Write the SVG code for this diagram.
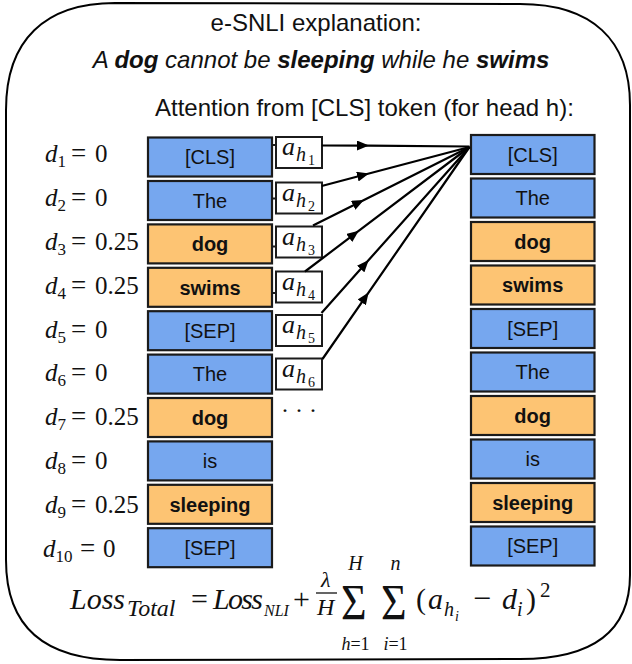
<svg xmlns="http://www.w3.org/2000/svg" width="632" height="664" viewBox="0 0 632 664">
<defs>
<style>
.frame{fill:none;stroke:#000;stroke-width:2}
.blue{fill:#76A7EF;stroke:#1b1b1b;stroke-width:2.2}
.orange{fill:#FDC473;stroke:#1b1b1b;stroke-width:2.2}
.abox{fill:#fff;stroke:#1b1b1b;stroke-width:2}
.tok{font-family:"Liberation Sans",Arial,sans-serif;font-size:20px;fill:#111;text-anchor:middle}
.b{font-weight:bold}
.head{font-family:"Liberation Sans",Arial,sans-serif;font-size:24px;fill:#111}
.m{font-family:"Liberation Serif","Times New Roman",serif;fill:#111}
.i{font-style:italic}
.conn{fill:none;stroke:#000;stroke-width:2.2}
.tick{stroke:#1b1b1b;stroke-width:2}
</style>
<marker id="ah" viewBox="0 0 12 10" refX="11" refY="5" markerWidth="12" markerHeight="10" markerUnits="userSpaceOnUse" orient="auto">
<path d="M0,0 L12,5 L0,10 z" fill="#000"/>
</marker>
</defs>

<path class="frame" d="M115,3 L520,4 C592,4 630,40 630,105 L630,575 C630,632 592,659 520,659 L120,660 C48,660 6,630 6,560 L6,110 C6,40 45,3 115,3 Z"/>

<g id="header">
<text class="head" x="316" y="31" text-anchor="middle">e-SNLI explanation:</text>
<text class="head i" x="321" y="68" text-anchor="middle" font-size="24.5">A <tspan class="b">dog</tspan> cannot be <tspan class="b">sleeping</tspan> while he <tspan class="b">swims</tspan></text>
<text class="head" x="155" y="116" font-size="24.7">Attention from [CLS] token (for head h):</text>
</g>

<g id="d-labels" class="m" font-size="25">
<text y="161.7"><tspan x="45" class="i">d</tspan><tspan font-size="17" dy="5">1</tspan><tspan x="71" dy="-5" font-size="27">=</tspan><tspan x="95">0</tspan></text>
<text y="205.6"><tspan x="45" class="i">d</tspan><tspan font-size="17" dy="5">2</tspan><tspan x="71" dy="-5" font-size="27">=</tspan><tspan x="95">0</tspan></text>
<text y="249.6"><tspan x="45" class="i">d</tspan><tspan font-size="17" dy="5">3</tspan><tspan x="71" dy="-5" font-size="27">=</tspan><tspan x="95">0.25</tspan></text>
<text y="293.5"><tspan x="45" class="i">d</tspan><tspan font-size="17" dy="5">4</tspan><tspan x="71" dy="-5" font-size="27">=</tspan><tspan x="95">0.25</tspan></text>
<text y="337.5"><tspan x="45" class="i">d</tspan><tspan font-size="17" dy="5">5</tspan><tspan x="71" dy="-5" font-size="27">=</tspan><tspan x="95">0</tspan></text>
<text y="381.4"><tspan x="45" class="i">d</tspan><tspan font-size="17" dy="5">6</tspan><tspan x="71" dy="-5" font-size="27">=</tspan><tspan x="95">0</tspan></text>
<text y="425.4"><tspan x="45" class="i">d</tspan><tspan font-size="17" dy="5">7</tspan><tspan x="71" dy="-5" font-size="27">=</tspan><tspan x="95">0.25</tspan></text>
<text y="469.3"><tspan x="45" class="i">d</tspan><tspan font-size="17" dy="5">8</tspan><tspan x="71" dy="-5" font-size="27">=</tspan><tspan x="95">0</tspan></text>
<text y="513.3"><tspan x="45" class="i">d</tspan><tspan font-size="17" dy="5">9</tspan><tspan x="71" dy="-5" font-size="27">=</tspan><tspan x="95">0.25</tspan></text>
<text y="557.2"><tspan x="43" class="i">d</tspan><tspan font-size="17" dy="5">10</tspan><tspan x="80" dy="-5" font-size="27">=</tspan><tspan x="103">0</tspan></text>
</g>

<g id="left-tokens">
<g id="l1"><rect class="blue" x="148" y="137.5" width="124" height="39"/><text class="tok" x="210" y="164.3">[CLS]</text></g>
<g id="l2"><rect class="blue" x="148" y="181" width="124" height="39"/><text class="tok" x="210" y="207.8">The</text></g>
<g id="l3"><rect class="orange" x="148" y="224.4" width="124" height="39"/><text class="tok b" x="210" y="251.2">dog</text></g>
<g id="l4"><rect class="orange" x="148" y="267.8" width="124" height="39"/><text class="tok b" x="210" y="294.6">swims</text></g>
<g id="l5"><rect class="blue" x="148" y="311.2" width="124" height="39"/><text class="tok" x="210" y="338">[SEP]</text></g>
<g id="l6"><rect class="blue" x="148" y="354.6" width="124" height="39"/><text class="tok" x="210" y="381.4">The</text></g>
<g id="l7"><rect class="orange" x="148" y="398" width="124" height="39"/><text class="tok b" x="210" y="424.8">dog</text></g>
<g id="l8"><rect class="blue" x="148" y="441.4" width="124" height="39"/><text class="tok" x="210" y="468.2">is</text></g>
<g id="l9"><rect class="orange" x="148" y="484.8" width="124" height="39"/><text class="tok b" x="210" y="511.6">sleeping</text></g>
<g id="l10"><rect class="blue" x="148" y="528.2" width="124" height="39"/><text class="tok" x="210" y="555">[SEP]</text></g>
</g>

<g id="right-tokens">
<g id="r1"><rect class="blue" x="471" y="135" width="123.5" height="39"/><text class="tok" x="532.7" y="161.8">[CLS]</text></g>
<g id="r2"><rect class="blue" x="471" y="178.5" width="123.5" height="39"/><text class="tok" x="532.7" y="205.3">The</text></g>
<g id="r3"><rect class="orange" x="471" y="222" width="123.5" height="39"/><text class="tok b" x="532.7" y="248.8">dog</text></g>
<g id="r4"><rect class="orange" x="471" y="265.5" width="123.5" height="39"/><text class="tok b" x="532.7" y="292.3">swims</text></g>
<g id="r5"><rect class="blue" x="471" y="309" width="123.5" height="39"/><text class="tok" x="532.7" y="335.8">[SEP]</text></g>
<g id="r6"><rect class="blue" x="471" y="352.5" width="123.5" height="39"/><text class="tok" x="532.7" y="379.3">The</text></g>
<g id="r7"><rect class="orange" x="471" y="396" width="123.5" height="39"/><text class="tok b" x="532.7" y="422.8">dog</text></g>
<g id="r8"><rect class="blue" x="471" y="439.5" width="123.5" height="39"/><text class="tok" x="532.7" y="466.3">is</text></g>
<g id="r9"><rect class="orange" x="471" y="483" width="123.5" height="39"/><text class="tok b" x="532.7" y="509.8">sleeping</text></g>
<g id="r10"><rect class="blue" x="471" y="526.5" width="123.5" height="39"/><text class="tok" x="532.7" y="553.3">[SEP]</text></g>
</g>

<g id="attention-weights" class="m">
<g id="a1"><rect class="abox" x="276" y="137" width="46" height="31"/><text class="i" font-size="26" x="282" y="155">a</text><text class="i" font-size="20" x="296" y="161">h</text><text font-size="14" x="308" y="165">1</text></g>
<g id="a2"><rect class="abox" x="276" y="182.5" width="46" height="31"/><text class="i" font-size="26" x="282" y="200.5">a</text><text class="i" font-size="20" x="296" y="206.5">h</text><text font-size="14" x="308" y="210.5">2</text></g>
<g id="a3"><rect class="abox" x="276" y="226.5" width="46" height="31"/><text class="i" font-size="26" x="282" y="244.5">a</text><text class="i" font-size="20" x="296" y="250.5">h</text><text font-size="14" x="308" y="254.5">3</text></g>
<g id="a4"><rect class="abox" x="276" y="271.5" width="46" height="31"/><text class="i" font-size="26" x="282" y="289.5">a</text><text class="i" font-size="20" x="296" y="295.5">h</text><text font-size="14" x="308" y="299.5">4</text></g>
<g id="a5"><rect class="abox" x="276" y="315" width="46" height="31"/><text class="i" font-size="26" x="282" y="333">a</text><text class="i" font-size="20" x="296" y="339">h</text><text font-size="14" x="308" y="343">5</text></g>
<g id="a6"><rect class="abox" x="276" y="358.5" width="46" height="31"/><text class="i" font-size="26" x="282" y="376.5">a</text><text class="i" font-size="20" x="296" y="382.5">h</text><text font-size="14" x="308" y="386.5">6</text></g>
<text id="ellipsis" font-size="24" x="281" y="418">· · ·</text>
</g>

<g id="connectors">
<line class="tick" x1="272" y1="145" x2="276" y2="145"/>
<line class="tick" x1="272" y1="198.5" x2="276" y2="198.5"/>
<line class="tick" x1="272" y1="246.5" x2="276" y2="246.5"/>
<line class="tick" x1="272" y1="293" x2="276" y2="293"/>
<polyline class="conn" marker-mid="url(#ah)" points="321.7,145.5 368,145.6 469.5,146.5"/>
<polyline class="conn" marker-mid="url(#ah)" points="321.7,186 368,173.8 469.5,147"/>
<polyline class="conn" marker-mid="url(#ah)" points="313,225.5 363,200.4 469.5,147"/>
<polyline class="conn" marker-mid="url(#ah)" points="305,271.5 358,231.4 469.5,147"/>
<polyline class="conn" marker-mid="url(#ah)" points="321.5,313 368,260.8 469.5,147"/>
<polyline class="conn" marker-mid="url(#ah)" points="322.5,359 368,293.4 469.5,147"/>
</g>

<g id="formula" class="m">
<text class="i" font-size="30" x="70" y="609">Loss</text>
<text class="i" font-size="24" x="127" y="616">Total</text>
<text font-size="30" x="191" y="609">=</text>
<text class="i" font-size="30" x="213" y="609" textLength="50" lengthAdjust="spacing">Loss</text>
<text class="i" font-size="16" x="264" y="616">NLI</text>
<text font-size="30" x="293" y="609">+</text>
<text class="i" font-size="22" x="321" y="587">λ</text>
<line x1="316" y1="593" x2="337" y2="593" stroke="#111" stroke-width="1.3"/>
<text class="i" font-size="24" x="317" y="615">H</text>
<text font-size="44" transform="translate(341,619) scale(1,1.15)">Σ</text>
<text class="i" font-size="20" x="355.5" y="570" text-anchor="middle">H</text>
<text font-size="18" x="355.5" y="650" text-anchor="middle"><tspan class="i">h</tspan>=1</text>
<text font-size="44" transform="translate(381,619) scale(1,1.15)">Σ</text>
<text class="i" font-size="20" x="395.5" y="570" text-anchor="middle">n</text>
<text font-size="18" x="395.5" y="650" text-anchor="middle"><tspan class="i">i</tspan>=1</text>
<text font-size="30" x="416" y="609">(</text>
<text class="i" font-size="30" x="428" y="609">a</text>
<text class="i" font-size="20" x="444" y="616">h</text>
<text class="i" font-size="14" x="455" y="621">i</text>
<text font-size="32" x="473" y="609">−</text>
<text class="i" font-size="30" x="502" y="609">d</text>
<text class="i" font-size="20" x="517" y="616">i</text>
<text font-size="30" x="526" y="609">)</text>
<text font-size="21" x="540" y="597">2</text>
</g>
</svg>
